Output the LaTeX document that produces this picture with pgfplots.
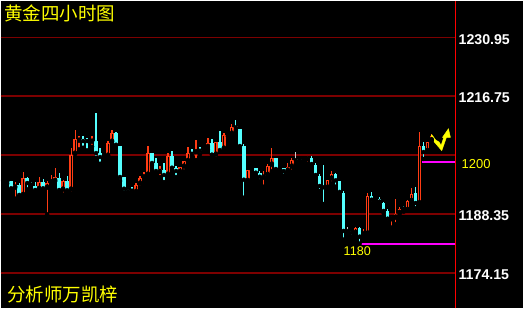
\documentclass[border=0pt]{standalone}
\usepackage{pgfplots}
\usepackage{pgfplotstable}
\pgfplotsset{compat=1.18}
\usepackage{fontspec}
\setmainfont{Liberation Sans}
\newfontfamily\cjk{Noto Sans CJK SC}
\definecolor{cred}{RGB}{255,60,20}
\definecolor{ccyan}{RGB}{84,255,255}
\definecolor{gridred}{RGB}{125,0,0}
\definecolor{cgray}{RGB}{200,200,200}
\definecolor{cmag}{RGB}{255,0,255}
\definecolor{cyel}{RGB}{255,255,0}

% columns: candle index, body top, body bottom, high, low
\pgfplotstableread{
i top bot hi lo
0 1196.59 1196.35 1196.65 1196.29
1 1196.37 1196.13 1196.78 1195.64
3 1195.33 1194.68 1195.98 1192.03
5 1196.94 1192.93 1198.46 1192.03
9 1195.98 1194.37 1197.26 1193.89
11 1195.73 1194.68 1196.29 1188.27
12 1196.29 1195.98 1197.74 1195.50
13 1197.18 1196.29 1199.42 1196.29
15 1196.29 1194.20 1196.54 1193.00
17 1202.55 1194.20 1204.24 1193.17
18 1206.40 1202.86 1208.57 1202.86
19 1206.23 1205.99 1207.13 1203.92
22 1205.99 1205.75 1207.13 1204.55
25 1202.48 1202.24 1202.86 1201.90
26 1205.44 1202.38 1205.92 1202.38
27 1207.85 1205.75 1208.64 1204.89
33 1195.25 1193.65 1195.73 1193.24
34 1196.94 1195.64 1197.50 1194.68
35 1197.50 1197.18 1198.46 1196.29
36 1203.03 1197.81 1204.72 1197.81
39 1199.11 1198.46 1199.90 1197.26
41 1202.31 1197.81 1203.11 1197.81
44 1199.66 1198.46 1199.66 1197.98
45 1201.11 1199.74 1201.11 1198.63
46 1203.03 1201.11 1204.48 1201.11
48 1203.52 1203.20 1206.16 1201.35
50 1204.24 1203.83 1204.24 1203.83
51 1205.44 1204.48 1206.64 1203.83
53 1205.68 1202.62 1205.68 1201.66
55 1207.37 1204.07 1207.85 1204.07
56 1207.68 1207.37 1207.92 1207.05
57 1209.29 1207.68 1210.01 1207.44
61 1198.87 1196.29 1198.87 1196.13
62 1199.49 1199.25 1199.90 1198.94
65 1197.74 1197.09 1198.70 1194.92
66 1199.90 1197.74 1200.39 1197.74
67 1201.83 1200.22 1204.24 1198.63
69 1199.35 1199.01 1199.35 1198.77
71 1199.66 1198.77 1200.63 1198.53
72 1201.35 1199.74 1201.83 1198.53
75 1201.42 1201.18 1201.83 1201.18
76 1201.83 1201.52 1202.31 1200.39
81 1196.54 1194.68 1196.54 1194.54
82 1198.05 1196.85 1198.70 1195.73
88 1184.91 1183.79 1185.15 1183.48
90 1183.62 1183.38 1184.74 1182.52
91 1192.61 1183.62 1193.41 1182.90
93 1192.03 1191.79 1192.10 1191.70
97 1187.31 1187.07 1187.79 1185.06
98 1188.27 1187.46 1191.96 1185.87
99 1189.55 1188.59 1189.96 1188.42
101 1191.48 1189.31 1191.72 1189.14
102 1193.17 1191.48 1194.61 1191.48
104 1204.72 1190.92 1208.09 1190.92
106 1205.61 1203.52 1205.61 1203.35
107 1207.13 1206.09 1207.68 1206.09
}\redtab

\pgfplotstableread{
i top bot hi lo
2 1196.29 1194.54 1196.29 1194.30
4 1195.33 1192.93 1195.88 1192.27
6 1197.02 1195.81 1197.33 1194.30
7 1195.64 1195.40 1196.05 1195.33
8 1195.09 1194.13 1195.98 1193.48
10 1196.05 1194.54 1196.78 1193.65
14 1197.02 1194.13 1198.22 1193.65
16 1196.29 1194.06 1197.50 1193.48
20 1206.48 1205.92 1207.13 1204.32
21 1206.16 1205.92 1206.64 1203.68
23 1205.92 1203.03 1212.66 1201.90
24 1203.03 1202.07 1204.24 1200.46
28 1207.85 1205.03 1208.09 1204.79
29 1204.72 1197.26 1204.72 1196.29
30 1197.26 1194.44 1197.26 1193.48
31 1194.13 1193.89 1194.37 1193.48
32 1194.20 1193.96 1194.85 1193.65
37 1203.03 1200.63 1203.03 1200.15
38 1200.63 1198.70 1201.83 1198.22
40 1198.94 1197.74 1200.63 1196.05
42 1202.31 1199.50 1203.52 1198.70
43 1199.50 1198.70 1199.90 1197.26
47 1203.10 1202.86 1204.00 1202.31
49 1203.83 1203.59 1204.48 1202.72
52 1205.44 1202.62 1206.40 1202.62
54 1205.68 1203.76 1208.33 1203.35
58 1209.46 1209.22 1210.98 1208.57
59 1208.81 1204.72 1208.81 1204.55
60 1204.72 1196.61 1205.27 1192.27
63 1199.35 1198.30 1199.35 1197.50
64 1198.30 1197.33 1198.70 1196.29
68 1201.83 1199.18 1201.83 1199.01
70 1199.42 1198.70 1199.42 1197.57
74 1201.59 1201.35 1201.83 1200.39
77 1201.83 1200.39 1202.31 1199.50
78 1200.15 1197.74 1200.63 1197.26
79 1197.50 1195.09 1197.98 1193.89
80 1195.02 1194.78 1200.22 1190.75
83 1198.05 1196.46 1198.30 1194.92
84 1196.29 1193.65 1196.29 1192.93
85 1193.41 1184.26 1193.82 1182.18
87 1184.26 1183.86 1184.26 1182.83
89 1184.91 1182.90 1185.15 1181.22
92 1192.61 1191.79 1193.65 1190.92
94 1191.96 1191.31 1192.37 1191.31
95 1190.99 1189.07 1191.23 1188.42
96 1189.07 1187.22 1189.55 1186.35
100 1189.86 1189.62 1190.28 1188.90
103 1193.41 1190.99 1194.85 1189.72
105 1204.72 1203.27 1205.68 1201.59
}\cyantab

\pgfplotstableread{
i top bot hi lo
73 1201.52 1201.28 1203.27 1200.39
86 1184.43 1184.19 1185.15 1183.31
}\graytab

% candles 22 onward sit one pixel (0.25 slot) further right
\pgfplotsset{
  cndl/.style n args={2}{only marks, mark=none, forget plot,
    error bars/.cd, y dir=plus, y explicit, error mark=none,
    error bar style={line width=#2, draw=#1, solid}},
  /pgfplots/table/slotx/.style={x expr={\thisrow{i}+0.25*(\thisrow{i}>21)}},
}

\begin{document}
\begin{tikzpicture}
\fill[black] (0,0) rectangle (523pt,308pt);
\begin{axis}[at={(0,0)}, anchor=south west, scale only axis,
  width=455pt, height=308pt,
  xmin=-0.625, xmax=113.125, ymin=1165.60, ymax=1239.74,
  axis line style={draw=none}, xtick=\empty,
  ytick={1174.15,1188.35,1202.55,1216.75,1230.95},
  yticklabels={1174.15,1188.35,,1216.75,1230.95},
  yticklabel pos=right, major tick length=0pt,
  ymajorgrids, grid style={gridred, line width=1.4pt},
  yticklabel style={text=white, font=\fontsize{14.2}{14.2}\selectfont\bfseries, yshift=-2pt},
]
% wicks
\addplot[cndl={cred}{1.2pt}] table[slotx, y=lo, y error expr=\thisrow{hi}-\thisrow{lo}] {\redtab};
\addplot[cndl={ccyan}{1.2pt}] table[slotx, y=lo, y error expr=\thisrow{hi}-\thisrow{lo}] {\cyantab};
\addplot[cndl={cgray}{1.2pt}] table[slotx, y=lo, y error expr=\thisrow{hi}-\thisrow{lo}] {\graytab};
% bodies
\addplot[cndl={cred}{3.4pt}] table[slotx, y=bot, y error expr=\thisrow{top}-\thisrow{bot}] {\redtab};
\addplot[cndl={ccyan}{3.4pt}] table[slotx, y=bot, y error expr=\thisrow{top}-\thisrow{bot}] {\cyantab};
\addplot[cndl={cgray}{3.4pt}] table[slotx, y=bot, y error expr=\thisrow{top}-\thisrow{bot}] {\graytab};
% hollow interior of rising candles
\addplot[cndl={black}{0.9pt}] table[slotx, y expr=\thisrow{bot}+0.27, y error expr={max(\thisrow{top}-\thisrow{bot}-0.54,0)}] {\redtab};
% support / resistance lines
\addplot[cmag, line width=1.4pt, forget plot] coordinates {(104.875,1200.87) (113.5,1200.87)};
\addplot[cmag, line width=1.4pt, forget plot] coordinates {(89.375,1181.13) (113.5,1181.13)};
% yellow arrow
\addplot[fill=cyel, draw=cyel, line width=0.4pt, forget plot] coordinates {
 (107.29,1207.45) (108.29,1206.16) (109.125,1205.68) (109.625,1204.88)
 (110.29,1206.80) (109.96,1206.80) (111.46,1208.89) (111.96,1206.80)
 (110.96,1206.80) (109.79,1203.60) (107.79,1205.84) (107.125,1207.29)
 (107.29,1207.45)};
\end{axis}
\draw[red, line width=1.5pt] (455.5pt,0) -- (455.5pt,308pt);
\node[text=cyel, font=\cjk\fontsize{18.5}{18.5}\selectfont] at (59.2pt,295.7pt) {黄金四小时图};
\node[text=cyel, font=\cjk\fontsize{18.5}{18.5}\selectfont] at (62pt,14pt) {分析师万凯梓};
\node[text=cyel, font=\fontsize{13}{13}\selectfont] at (476pt,144.7pt) {1200};
\node[text=cyel, font=\fontsize{12.6}{12.6}\selectfont] at (357pt,57pt) {1180};
\end{tikzpicture}
\end{document}
